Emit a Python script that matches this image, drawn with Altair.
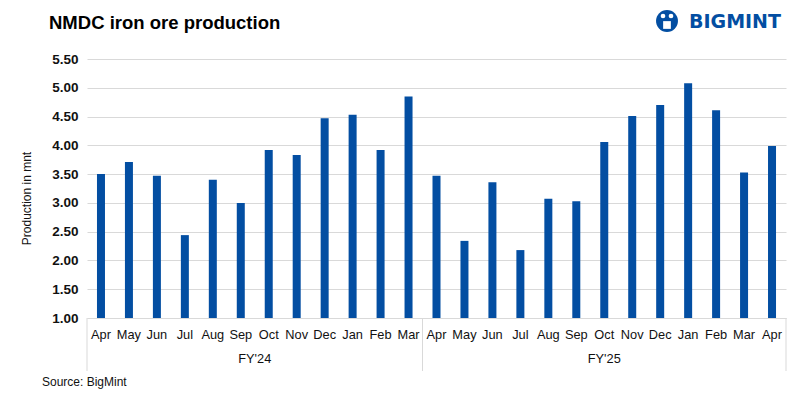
import altair as alt
import pandas as pd

# ---------------- data ----------------
fy_labels = ["FY'24", "FY'25"]
months_fy24 = ["Apr", "May", "Jun", "Jul", "Aug", "Sep", "Oct", "Nov", "Dec", "Jan", "Feb", "Mar"]
values_fy24 = [3.50, 3.71, 3.47, 2.44, 3.40, 3.00, 3.92, 3.83, 4.47, 4.53, 3.92, 4.85]
months_fy25 = ["Apr", "May", "Jun", "Jul", "Aug", "Sep", "Oct", "Nov", "Dec", "Jan", "Feb", "Mar", "Apr"]
values_fy25 = [3.47, 2.34, 3.36, 2.18, 3.07, 3.03, 4.06, 4.51, 4.70, 5.08, 4.61, 3.53, 3.99]
y_ticks = [1.00, 1.50, 2.00, 2.50, 3.00, 3.50, 4.00, 4.50, 5.00, 5.50]
y_min, y_max = 1.0, 5.5

title_text = "NMDC iron ore production"
y_title = "Production in mnt"
source_text = "Source: BigMint"
logo_text = "BIGMINT"

# ---------------- styles ----------------
BLUE = "#034EA2"
GRID = "#D9D9D9"
FONT = "Liberation Sans"
W, H = 699, 259

rows = []
groups = []
pos = 0
for fy, months, vals in [(fy_labels[0], months_fy24, values_fy24),
                         (fy_labels[1], months_fy25, values_fy25)]:
    start = pos
    for m, v in zip(months, vals):
        rows.append({"key": f"{fy}|{m}|{pos}", "fy": fy, "month": m, "value": v})
        pos += 1
    groups.append({"fy": fy, "start": start, "end": pos, "mid": (start + pos) / 2})
df = pd.DataFrame(rows)
keys = list(df["key"])
n_total = len(keys)
grp_df = pd.DataFrame(groups)
bounds_df = pd.DataFrame({"pos": sorted(set([g["start"] for g in groups] + [g["end"] for g in groups]))})

bars = alt.Chart(df).mark_bar(size=8, color=BLUE).encode(
    x=alt.X("key:N", sort=keys,
            scale=alt.Scale(paddingInner=0, paddingOuter=0),
            axis=alt.Axis(title=None, labelExpr="split(datum.value, '|')[1]", labelAngle=0,
                          ticks=False, grid=False, domainColor=GRID, domainWidth=1,
                          labelFont=FONT, labelFontSize=12.8, labelColor="#111111",
                          labelBaseline="middle", labelPadding=16)),
    y=alt.Y("value:Q",
            scale=alt.Scale(domain=[y_min, y_max], zero=False, nice=False),
            axis=alt.Axis(values=y_ticks, format=".2f", title=y_title, domain=False, ticks=False,
                          grid=True, gridColor=GRID, gridWidth=1,
                          labelFont=FONT, labelFontSize=13.5, labelFontWeight="bold",
                          labelColor="#111111", labelPadding=9,
                          titleFont=FONT, titleFontSize=12, titleFontWeight="normal",
                          titleColor="#111111", titleX=-61, titleY=139, titleAngle=-90,
                          titleAlign="center", titleBaseline="middle")),
    y2=alt.datum(y_min),
)

xq_scale = alt.Scale(domain=[0, n_total], nice=False, zero=False)

grp_text = alt.Chart(grp_df).mark_text(font=FONT, fontSize=12.8, color="#111111",
                                       baseline="middle", align="center").encode(
    x=alt.X("mid:Q", scale=xq_scale, axis=None),
    y=alt.value(300),
    text="fy:N",
)

sep_rules = alt.Chart(bounds_df).mark_rule(color=GRID, strokeWidth=1).encode(
    x=alt.X("pos:Q", scale=xq_scale, axis=None),
    y=alt.value(H),
    y2=alt.value(312),
)

title = alt.Chart(pd.DataFrame({"t": [title_text]})).mark_text(
    font=FONT, fontSize=18.5, fontWeight="bold", color="#000000",
    align="left", baseline="middle").encode(
    x=alt.value(-38), y=alt.value(-36.5), text="t:N")

src = alt.Chart(pd.DataFrame({"t": [source_text]})).mark_text(
    font=FONT, fontSize=12, color="#111111", align="left", baseline="middle").encode(
    x=alt.value(-45), y=alt.value(323), text="t:N")

logo = alt.Chart(pd.DataFrame({"t": [logo_text]})).mark_text(
    font="DejaVu Sans", fontSize=19, fontWeight="bold", color=BLUE, align="left",
    baseline="middle").encode(x=alt.value(602), y=alt.value(-37.5), text="t:N")

logo_icon = alt.Chart(pd.DataFrame({"t": [logo_text]})).mark_point(
    shape="circle", filled=True, size=480, color=BLUE, opacity=1).encode(
    x=alt.value(580), y=alt.value(-38))

logo_heads = alt.Chart(pd.DataFrame({"t": [logo_text]})).mark_point(
    shape="circle", filled=True, size=22, color="white", opacity=1).encode(
    x=alt.value(576), y=alt.value(-43))
logo_heads2 = alt.Chart(pd.DataFrame({"t": [logo_text]})).mark_point(
    shape="circle", filled=True, size=22, color="white", opacity=1).encode(
    x=alt.value(584), y=alt.value(-43))
logo_body = alt.Chart(pd.DataFrame({"t": [logo_text]})).mark_point(
    shape="square", filled=True, size=60, color="white", opacity=1).encode(
    x=alt.value(580), y=alt.value(-34))

chart = alt.layer(
    bars, sep_rules, grp_text, title, src, logo_icon, logo_heads, logo_heads2, logo_body, logo
).resolve_scale(x="independent").resolve_axis(x="independent").properties(
    width=W, height=H,
    autosize=alt.AutoSizeParams(type="none"),
    padding={"left": 79, "top": 51, "right": 6, "bottom": 75},
    background="white",
).configure_view(stroke=None)

chart.save("out.html", embed_options={"renderer": "svg", "actions": False})
